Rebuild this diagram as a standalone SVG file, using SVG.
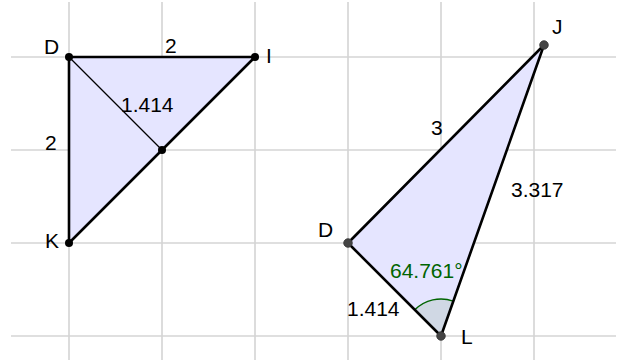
<svg xmlns="http://www.w3.org/2000/svg" width="623" height="360" viewBox="0 0 623 360">
<style>
.grid line{stroke:#d4d4d4;stroke-width:1.6}
.edge{stroke:#000;stroke-width:2.6;stroke-linecap:round;fill:none}
.poly{fill:#e5e5ff;stroke:none}
.lbl{font-family:"Liberation Sans",Arial,sans-serif;font-size:21px;fill:#000}
.ang{font-family:"Liberation Sans",Arial,sans-serif;font-size:21px;fill:#006400}
.pt1{fill:#000}
.pt2{fill:#444;stroke:#333;stroke-width:0.8}
</style>
<rect width="623" height="360" fill="#fff"/>
<g class="grid">
<line x1="69" y1="2" x2="69" y2="360"/>
<line x1="162" y1="2" x2="162" y2="360"/>
<line x1="255" y1="2" x2="255" y2="360"/>
<line x1="348" y1="2" x2="348" y2="360"/>
<line x1="441" y1="2" x2="441" y2="360"/>
<line x1="534" y1="2" x2="534" y2="360"/>
<line x1="11" y1="57" x2="616" y2="57"/>
<line x1="11" y1="150" x2="616" y2="150"/>
<line x1="11" y1="243" x2="616" y2="243"/>
<line x1="11" y1="336" x2="616" y2="336"/>
</g>
<g id="triangle-DIK">
<polygon class="poly" points="69,57 255,57 69,243"/>
</g>
<g id="triangle-DJL">
<polygon class="poly" points="348,243 544,45 441,336"/>
<path d="M441,336 L414.8,309.8 A37,37 0 0 1 453.3,301.1 Z" fill="#d0d8e4" stroke="none"/>
<path d="M414.8,309.8 A37,37 0 0 1 453.3,301.1" fill="none" stroke="#006400" stroke-width="1.5"/>
<text class="ang" x="390" y="278">64.761°</text>
</g>
<g id="connectors">
<line class="edge" x1="69" y1="57" x2="255" y2="57"/>
<line class="edge" x1="255" y1="57" x2="69" y2="243"/>
<line class="edge" x1="69" y1="243" x2="69" y2="57"/>
<line x1="69" y1="57" x2="162" y2="150" stroke="#000" stroke-width="1.2"/>
<line class="edge" x1="348" y1="243" x2="544" y2="45"/>
<line class="edge" x1="544" y1="45" x2="441" y2="336"/>
<line class="edge" x1="441" y1="336" x2="348" y2="243"/>
</g>
<g id="node-D1"><circle class="pt1" cx="69" cy="57" r="4"/><text class="lbl" x="44" y="54">D</text></g>
<g id="node-I"><circle class="pt1" cx="255" cy="57" r="4"/><text class="lbl" x="266" y="63">I</text></g>
<g id="node-K"><circle class="pt1" cx="69" cy="243" r="4"/><text class="lbl" x="45" y="248">K</text></g>
<g id="node-M"><circle class="pt1" cx="162" cy="150" r="4"/></g>
<g id="labels-left">
<text class="lbl" x="165" y="53">2</text>
<text class="lbl" x="45" y="150">2</text>
<text class="lbl" x="121" y="112">1.414</text>
</g>
<g id="node-D2"><circle class="pt2" cx="348" cy="243" r="4.3"/><text class="lbl" x="318" y="237">D</text></g>
<g id="node-J"><circle class="pt2" cx="544" cy="45" r="4.3"/><text class="lbl" x="552" y="34">J</text></g>
<g id="node-L"><circle class="pt2" cx="441" cy="336" r="4.3"/><text class="lbl" x="461" y="344">L</text></g>
<g id="labels-right">
<text class="lbl" x="431" y="135">3</text>
<text class="lbl" x="511" y="197">3.317</text>
<text class="lbl" x="347" y="316">1.414</text>
</g>
</svg>
